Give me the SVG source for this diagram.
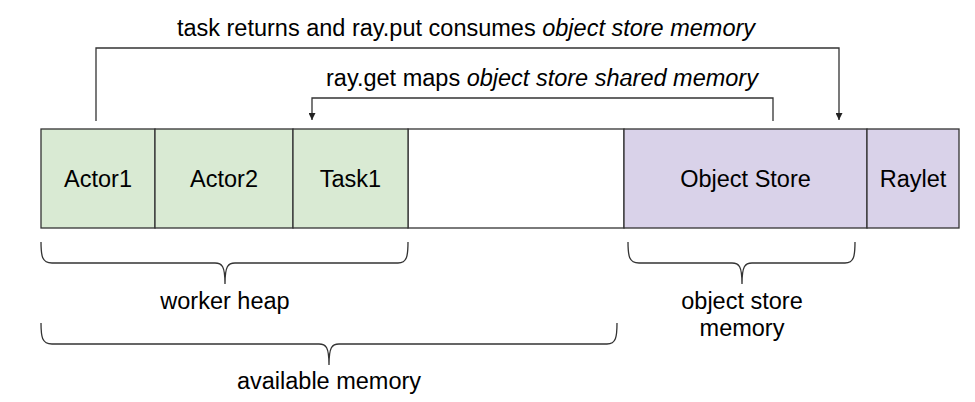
<svg xmlns="http://www.w3.org/2000/svg" width="975" height="402" viewBox="0 0 975 402">
<style>
text{font-family:"Liberation Sans",Arial,sans-serif;font-size:23.5px;fill:#000;text-anchor:middle}
.it{font-style:italic}
.cell{stroke:#333;stroke-width:1.3}
.g{fill:#d9ead3}
.p{fill:#d9d2e9}
.w{fill:#fff}
.ln{fill:none;stroke:#333;stroke-width:1.3}
</style>
<defs>
<marker id="ah" viewBox="0 0 10 10" refX="10" refY="5" markerWidth="7" markerHeight="7" markerUnits="userSpaceOnUse" orient="auto">
<path d="M0,0 L10,5 L0,10 z" fill="#222"/>
</marker>
</defs>
<g id="free"><rect class="cell w" x="408" y="129" width="216" height="99"/></g>
<g id="actor1"><rect class="cell g" x="41" y="129" width="114" height="99"/><text x="98" y="187">Actor1</text></g>
<g id="actor2"><rect class="cell g" x="155" y="129" width="138" height="99"/><text x="224" y="187">Actor2</text></g>
<g id="task1"><rect class="cell g" x="293" y="129" width="115" height="99"/><text x="350.5" y="187">Task1</text></g>
<g id="objectstore"><rect class="cell p" x="624" y="129" width="243" height="99"/><text x="745.5" y="187">Object Store</text></g>
<g id="raylet"><rect class="cell p" x="867" y="129" width="92" height="99"/><text x="913" y="187">Raylet</text></g>
<g id="connectors">
<path class="ln" d="M96,121 V48 H839 V120" marker-end="url(#ah)"/>
<path class="ln" d="M773,121 V98 H312 V120" marker-end="url(#ah)"/>
<path class="ln" d="M41,242 C41,256 42,263 52,263 L215,263 C222,263 225,266 225,284 C225,266 228,263 235,263 L398,263 C407,263 408,256 408,242"/>
<path class="ln" d="M628,242 C628,256 629,263 639,263 L732,263 C739,263 742,266 742,284 C742,266 745,263 752,263 L845,263 C854,263 855,256 855,242"/>
<path class="ln" d="M41,323 C41,337 42,344 52,344 L319,344 C326,344 329,347 329,365 C329,347 332,344 339,344 L607,344 C616,344 617,337 617,323"/>
</g>
<g id="labels">
<text x="466" y="36">task returns and ray.put consumes <tspan class="it">object store memory</tspan></text>
<text x="542" y="86">ray.get maps <tspan class="it">object store shared memory</tspan></text>
<text x="225" y="309">worker heap</text>
<text x="742" y="309">object store</text>
<text x="742" y="336">memory</text>
<text x="329" y="389">available memory</text>
</g>
</svg>
